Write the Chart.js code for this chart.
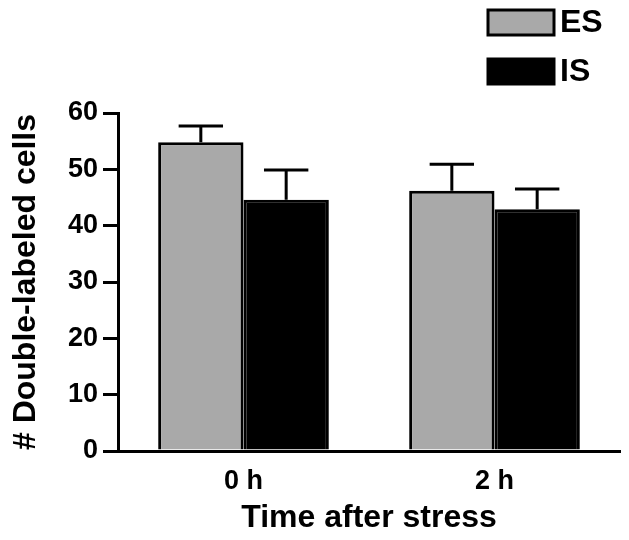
<!DOCTYPE html>
<html>
<head>
<meta charset="utf-8">
<script src="https://cdn.jsdelivr.net/npm/chart.js@4/dist/chart.umd.min.js"></script>
<style>
    body { margin: 0; background: #fff; }
    #wrap { width: 629px; height: 540px; position: relative; }
</style>
</head>
<body>
<div id="wrap"><canvas id="cellsChart"></canvas></div>
<script>
const categorias = ['0 h', '2 h'];
const nombresSeries = ['ES', 'IS'];
const valoresES = [54.8, 46.2];
const valoresIS = [44.6, 42.9];
const errorES = [2.9, 4.7];
const errorIS = [5.3, 3.6];
const ticksY = [0, 10, 20, 30, 40, 50, 60];

const fuente = '"Liberation Sans", Arial, Helvetica, sans-serif';

// barras de error solo hacia arriba
const errorBarsPlugin = {
    id: 'errorBars',
    afterDatasetsDraw(chart) {
        const ctx = chart.ctx;
        const y = chart.scales.y;
        chart.data.datasets.forEach((ds, i) => {
            const meta = chart.getDatasetMeta(i);
            meta.data.forEach((bar, j) => {
                const top = y.getPixelForValue(ds.data[j] + ds.errores[j]);
                const cap = bar.width * 0.26;
                ctx.save();
                ctx.strokeStyle = '#000';
                ctx.lineWidth = 3;
                ctx.beginPath();
                ctx.moveTo(bar.x, bar.y);
                ctx.lineTo(bar.x, top);
                ctx.moveTo(bar.x - cap, top);
                ctx.lineTo(bar.x + cap, top);
                ctx.stroke();
                ctx.restore();
            });
        });
    }
};

// leyenda apilada arriba a la derecha
const leyendaPlugin = {
    id: 'leyendaApilada',
    afterDraw(chart) {
        const ctx = chart.ctx;
        const x0 = 488, w = 66, h = 25;
        chart.data.datasets.forEach((ds, i) => {
            const y0 = 10 + i * 49;
            ctx.save();
            ctx.fillStyle = ds.backgroundColor;
            ctx.fillRect(x0, y0, w, h);
            ctx.strokeStyle = '#000';
            ctx.lineWidth = 3;
            ctx.strokeRect(x0, y0, w, h);
            ctx.fillStyle = '#000';
            ctx.font = 'bold 32px ' + fuente;
            ctx.textBaseline = 'middle';
            ctx.fillText(ds.label, x0 + w + 6, y0 + h / 2 + 1);
            ctx.restore();
        });
    }
};

const ctx = document.getElementById('cellsChart').getContext('2d');

new Chart(ctx, {
    type: 'bar',
    data: {
        labels: categorias,
        datasets: [
            {
                label: nombresSeries[0],
                data: valoresES,
                errores: errorES,
                backgroundColor: '#a9a9a9',
                borderColor: '#000',
                borderWidth: 3
            },
            {
                label: nombresSeries[1],
                data: valoresIS,
                errores: errorIS,
                backgroundColor: '#000',
                borderColor: '#000',
                borderWidth: 3
            }
        ]
    },
    options: {
        responsive: true,
        maintainAspectRatio: false,
        animation: false,
        layout: {
            padding: { top: 113, right: 9, left: 7, bottom: 0 }
        },
        datasets: {
            bar: { categoryPercentage: 0.68, barPercentage: 1.0 }
        },
        plugins: {
            legend: { display: false },
            tooltip: { enabled: false }
        },
        scales: {
            x: {
                grid: { display: false, drawTicks: false },
                border: { display: true, color: '#000', width: 3 },
                ticks: {
                    color: '#000',
                    padding: 14,
                    font: { family: fuente, size: 27, weight: 'bold' }
                },
                title: {
                    display: true,
                    text: 'Time after stress',
                    color: '#000',
                    padding: { top: 0, bottom: 3 },
                    font: { family: fuente, size: 32, weight: 'bold' }
                },
                afterFit: function (axis) { axis.height = 89; }
            },
            y: {
                min: 0,
                max: 60,
                afterBuildTicks: function (axis) {
                    axis.ticks = ticksY.map(v => ({ value: v }));
                },
                grid: {
                    drawOnChartArea: false,
                    color: '#000',
                    lineWidth: 3,
                    tickLength: 15
                },
                border: { color: '#000', width: 3 },
                ticks: {
                    color: '#000',
                    padding: 5,
                    font: { family: fuente, size: 27, weight: 'bold' }
                },
                title: {
                    display: true,
                    text: '# Double-labeled cells',
                    color: '#000',
                    padding: { top: 0, bottom: 0 },
                    font: { family: fuente, size: 32, weight: 'bold' }
                },
                afterFit: function (axis) { axis.width = 111; }
            }
        }
    },
    plugins: [errorBarsPlugin, leyendaPlugin]
});
</script>
</body>
</html>
